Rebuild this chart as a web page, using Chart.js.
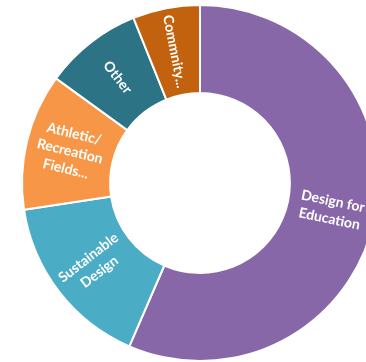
<!DOCTYPE html>
<html>
<head>
<meta charset="utf-8">
<script src="https://cdn.jsdelivr.net/npm/chart.js@4"></script>
<style>
  html, body { margin: 0; padding: 0; background: #fff; overflow: hidden; }
  body { width: 366px; height: 362px; position: relative; }
  #wrap { position: absolute; left: 0; top: 4px; width: 400px; height: 358px; }
</style>
</head>
<body>
<div id="wrap"><canvas id="myChart"></canvas></div>
<script>
// Project categories and their share (%)
const categories = ['Design for Education', 'Sustainable Design', 'Athletic/ Recreation Fields...', 'Other', 'Commnity...'];
const shares = [56.5, 16.1, 12.4, 8.9, 6.1];
// Text drawn inside each slice, one entry per line
const sliceLabels = [
    ['Design for', 'Education'],
    ['Sustainable', 'Design'],
    ['Athletic/', 'Recreation', 'Fields...'],
    ['Other'],
    ['Commnity...']
];
const sliceColors = ['#8767A8', '#4BACC6', '#F79646', '#2C7386', '#C2620E'];

// Writes the labels along the radius, in the middle of the ring
const ringLabels = {
    id: 'ringLabels',
    afterDatasetsDraw(chart) {
        const c = chart.ctx;
        const arcs = chart.getDatasetMeta(0).data;
        c.save();
        c.fillStyle = '#ffffff';
        c.font = 'bold 14px Lato';
        c.textAlign = 'center';
        c.textBaseline = 'middle';
        arcs.forEach((arc, i) => {
            const p = arc.getProps(['x', 'y', 'startAngle', 'endAngle', 'innerRadius', 'outerRadius'], true);
            const mid = (p.startAngle + p.endAngle) / 2;
            const r = (p.innerRadius + p.outerRadius) / 2;
            const x = p.x + Math.cos(mid) * r;
            const y = p.y + Math.sin(mid) * r;
            // point the text toward the centre, flipped so it never reads upside down
            let rot = mid + Math.PI;
            while (rot > Math.PI) rot -= 2 * Math.PI;
            while (rot < -Math.PI) rot += 2 * Math.PI;
            if (rot > Math.PI / 2) rot -= Math.PI;
            if (rot < -Math.PI / 2) rot += Math.PI;
            const lines = sliceLabels[i];
            const lh = 18;
            c.save();
            c.translate(x, y);
            c.rotate(rot);
            lines.forEach((t, k) => {
                c.fillText(t, 0, (k - (lines.length - 1) / 2) * lh);
            });
            c.restore();
        });
        c.restore();
    }
};

const ctx = document.getElementById('myChart').getContext('2d');
const myChart = new Chart(ctx, {
    type: 'doughnut',
    data: {
        labels: categories,
        datasets: [{
            data: shares,
            backgroundColor: sliceColors,
            borderColor: '#ffffff',
            borderWidth: 2
        }]
    },
    options: {
        responsive: true,
        maintainAspectRatio: false,
        animation: false,
        cutout: '50.5%',
        layout: { padding: 0 },
        plugins: {
            legend: { display: false },
            tooltip: { enabled: false }
        }
    },
    plugins: [ringLabels]
});
</script>
</body>
</html>
